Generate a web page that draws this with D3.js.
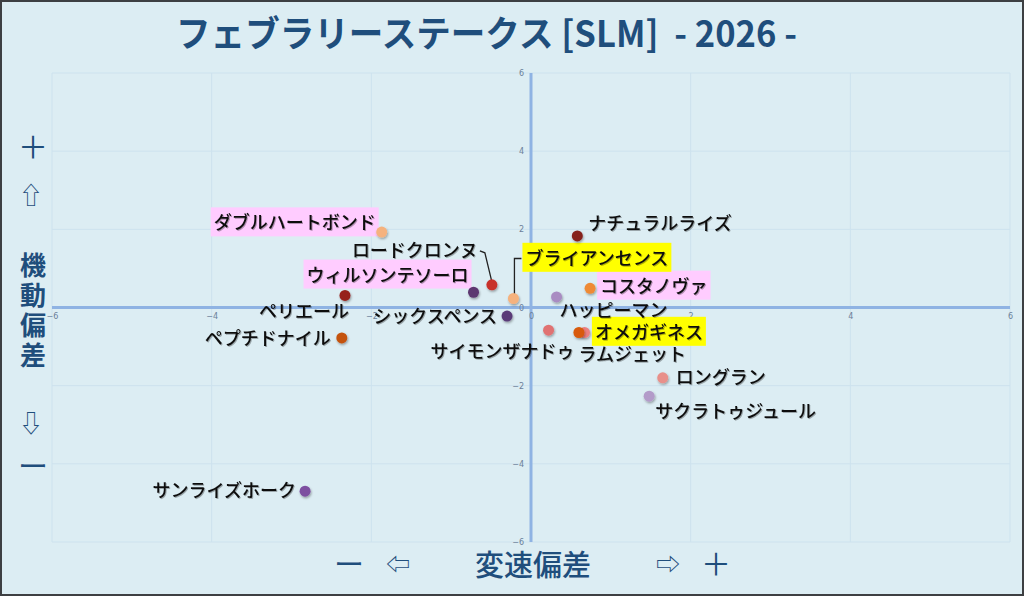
<!DOCTYPE html>
<html>
<head>
<meta charset="utf-8">
<script src="https://cdn.jsdelivr.net/npm/d3@7"></script>
<style>
  html, body { margin: 0; padding: 0; background: #dcedf3; }
  svg { display: block; }
</style>
</head>
<body>
<div id="chart"></div>
<script>
// horse names and their two scores (x = 変速偏差, y = 機動偏差)
var horses = ["ダブルハートボンド", "ロードクロンヌ", "ウィルソンテソーロ", "ブライアンセンス",
  "ペリエール", "シックスペンス", "ペプチドナイル", "ナチュラルライズ", "コスタノヴァ",
  "ハッピーマン", "サイモンザナドゥ", "ラムジェット", "オメガギネス", "ロングラン",
  "サクラトゥジュール", "サンライズホーク"];
var speedDev = [-1.87, -0.49, -0.72, -0.22, -2.33, -0.30, -2.37, 0.58, 0.74,
  0.32, 0.22, 0.67, 0.60, 1.65, 1.48, -2.83];
var mobilityDev = [1.93, 0.58, 0.39, 0.23, 0.31, -0.22, -0.78, 1.83, 0.49,
  0.27, -0.58, -0.64, -0.64, -1.80, -2.27, -4.70];
var tickValues = [-6, -4, -2, 0, 2, 4, 6];

// look
var dotColors = ["#f5b27e", "#c8302c", "#5c3770", "#f5b27e", "#96221f", "#5a3a78", "#c4520f",
  "#86201f", "#ee8a35", "#a98cc2", "#e07272", "#ec8080", "#d85a08", "#e8908a", "#b39bc9", "#7d4fa0"];
var highlight = ["pink", "", "pink", "yellow", "", "", "", "", "pink", "", "", "", "yellow", "", "", ""];
// label placement relative to dot: [dx, dy, anchor]
var labelPos = [[-6, -9, "end"], [-14, -34, "end"], [-5, -17, "end"], [12, -40, "start"],
  [4, 16, "end"], [-10, 1, "end"], [-11, 1, "end"], [11, -12, "start"], [10, -2, "start"],
  [3, 14, "start"], [26, 22, "end"], [-6, 22, "start"], [16, 0, "start"], [13, 0, "start"],
  [6, 15, "start"], [-9, 0, "end"]];

var W = 1024, H = 596;
var svg = d3.select("#chart").append("svg").attr("width", W).attr("height", H);

svg.append("rect").attr("x", 1).attr("y", 1).attr("width", W - 2).attr("height", H - 2)
  .attr("fill", "#dcedf3").attr("stroke", "#3d3f42").attr("stroke-width", 2);

var defs = svg.append("defs");
var f = defs.append("filter").attr("id", "shadow").attr("x", "-50%").attr("y", "-50%")
  .attr("width", "200%").attr("height", "200%");
f.append("feDropShadow").attr("dx", 0.8).attr("dy", 1.5).attr("stdDeviation", 1.2)
  .attr("flood-color", "#000").attr("flood-opacity", 0.35);
var ts = defs.append("filter").attr("id", "tshadow").attr("x", "-5%").attr("y", "-20%")
  .attr("width", "110%").attr("height", "140%");
ts.append("feDropShadow").attr("dx", 1).attr("dy", 1).attr("stdDeviation", 0.7)
  .attr("flood-color", "#000").attr("flood-opacity", 0.3);

var x = d3.scaleLinear().domain([-6, 6]).range([52, 1010]);
var y = d3.scaleLinear().domain([-6, 6]).range([542, 73]);

// grid
var grid = svg.append("g");
grid.selectAll(".gx").data(tickValues).enter().append("line")
  .attr("x1", d => x(d)).attr("x2", d => x(d)).attr("y1", y(6)).attr("y2", y(-6))
  .attr("stroke", "#cde2ee").attr("stroke-width", 1);
grid.selectAll(".gy").data(tickValues).enter().append("line")
  .attr("x1", x(-6)).attr("x2", x(6)).attr("y1", d => y(d)).attr("y2", d => y(d))
  .attr("stroke", "#cde2ee").attr("stroke-width", 1);

// main axes through zero
svg.append("line").attr("x1", x(-6)).attr("x2", x(6)).attr("y1", y(0)).attr("y2", y(0))
  .attr("stroke", "#8fb3e3").attr("stroke-width", 3);
svg.append("line").attr("x1", x(0)).attr("x2", x(0)).attr("y1", y(6)).attr("y2", y(-6))
  .attr("stroke", "#8fb3e3").attr("stroke-width", 3);

var xAxis = svg.append("g").attr("transform", "translate(0," + (y(0) + 4) + ")")
  .call(d3.axisBottom(x).tickValues(tickValues).tickSize(0).tickPadding(2));
var yAxis = svg.append("g").attr("transform", "translate(" + (x(0) - 7) + ",0)")
  .call(d3.axisLeft(y).tickValues(tickValues).tickSize(0).tickPadding(0));
[xAxis, yAxis].forEach(function(a) {
  a.select(".domain").remove();
  a.selectAll("text").attr("fill", "#6b7f99").style("font-size", "8px")
    .style("font-family", "'DejaVu Sans', sans-serif");
});

// title
svg.append("text").attr("x", 176).attr("y", 47)
  .attr("textLength", 621).attr("lengthAdjust", "spacingAndGlyphs")
  .attr("fill", "#1f4e7c").style("font-family", "'Noto Sans CJK JP', sans-serif")
  .style("font-weight", 700).style("font-size", "36px").style("white-space", "pre")
  .text("フェブラリーステークス [SLM]  - 2026 -");

// side labels
var side = svg.append("g").attr("fill", "#1f4e7c")
  .style("font-family", "'Noto Sans CJK JP', sans-serif").style("font-weight", 700)
  .attr("text-anchor", "middle");
side.append("text").attr("x", 33).attr("y", 158).style("font-size", "30px").style("font-weight", 400).text("＋");
side.append("text").attr("x", 31).attr("y", 204).style("font-size", "24px").style("font-weight", 400).text("⇧");
["機", "動", "偏", "差"].forEach(function(c, i) {
  side.append("text").attr("x", 33).attr("y", 275 + i * 30).style("font-size", "26px").text(c);
});
side.append("text").attr("x", 31).attr("y", 432).style("font-size", "24px").style("font-weight", 400).text("⇩");
side.append("text").attr("x", 33).attr("y", 477).style("font-size", "30px").style("font-weight", 400).text("ー");

side.append("text").attr("x", 349).attr("y", 575).style("font-size", "30px").style("font-weight", 400).text("ー");
side.append("text").attr("x", 398).attr("y", 573).style("font-size", "24px").style("font-weight", 400).text("⇦");
side.append("text").attr("x", 533).attr("y", 576).style("font-size", "29px").style("font-weight", 500).text("変速偏差");
side.append("text").attr("x", 668).attr("y", 573).style("font-size", "24px").style("font-weight", 400).text("⇨");
side.append("text").attr("x", 716).attr("y", 575).style("font-size", "30px").style("font-weight", 400).text("＋");

// points
var pts = horses.map(function(n, i) {
  return { name: n, sx: speedDev[i], my: mobilityDev[i], color: dotColors[i], hl: highlight[i], pos: labelPos[i] };
});

// leader lines
var leaders = { "ロードクロンヌ": [[-12, -34], [-7, -32], [0, -3]], "ブライアンセンス": [[8, -40], [1, -40], [1, -4]] };
pts.forEach(function(d) {
  if (leaders[d.name]) {
    var cx = x(d.sx), cy = y(d.my);
    svg.append("path")
      .attr("d", d3.line()(leaders[d.name].map(p => [cx + p[0], cy + p[1]])))
      .attr("fill", "none").attr("stroke", "#222").attr("stroke-width", 1.3);
  }
});

var labels = svg.append("g");
pts.forEach(function(d) {
  var cx = x(d.sx), cy = y(d.my);
  var t = labels.append("text")
    .attr("x", cx + d.pos[0]).attr("y", cy + d.pos[1])
    .attr("dy", "0.35em").attr("text-anchor", d.pos[2])
    .attr("fill", "#111").attr("filter", "url(#tshadow)")
    .style("font-family", "'Noto Sans CJK JP', sans-serif")
    .style("font-weight", 500).style("font-size", "18px")
    .text(d.name);
  if (d.hl) {
    var b = t.node().getBBox();
    labels.insert("rect", "text").attr("x", b.x - 3).attr("y", b.y - 1)
      .attr("width", b.width + 6).attr("height", b.height + 3)
      .attr("fill", d.hl === "pink" ? "#ffccff" : "#ffff00");
  }
});
labels.selectAll("rect").lower();

svg.append("g").selectAll("circle").data(pts).enter().append("circle")
  .attr("cx", d => x(d.sx)).attr("cy", d => y(d.my)).attr("r", 5.5)
  .attr("fill", d => d.color).attr("filter", "url(#shadow)");
</script>
</body>
</html>
